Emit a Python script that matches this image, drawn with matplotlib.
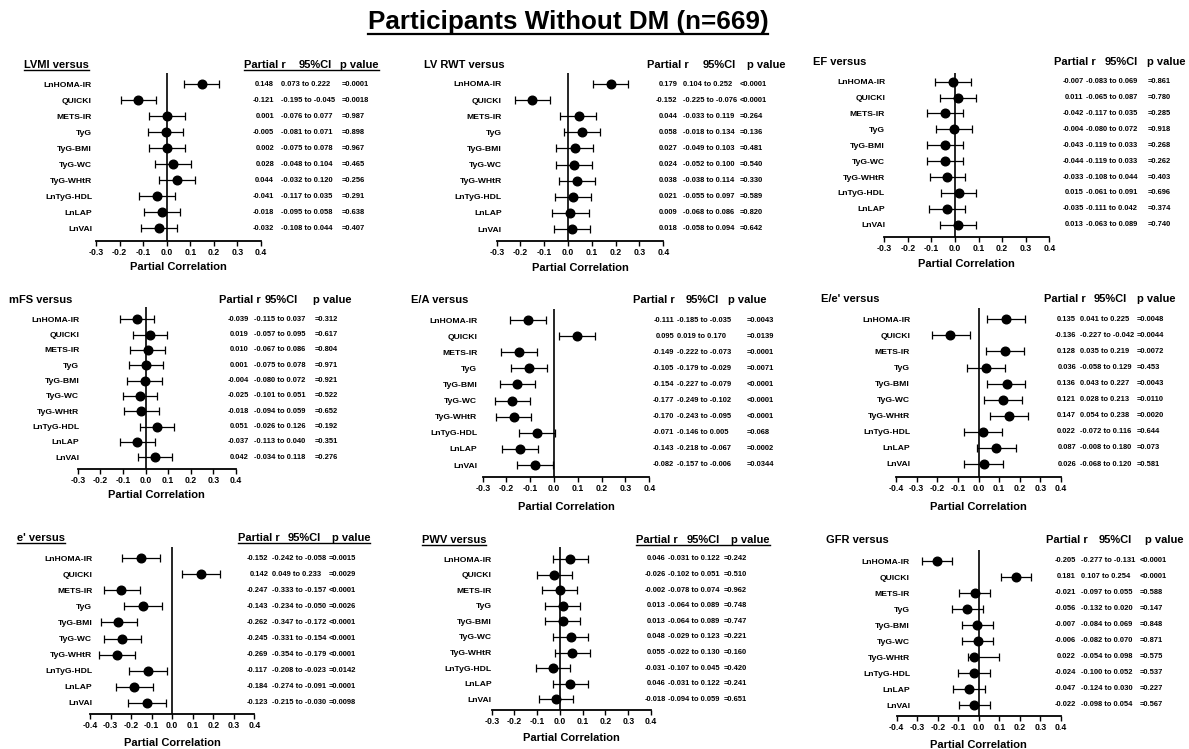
import numpy as np
import matplotlib
matplotlib.use("Agg")
import matplotlib.pyplot as plt
from matplotlib.transforms import blended_transform_factory
from matplotlib.lines import Line2D

plt.rcParams['font.family'] = ['Liberation Sans', 'DejaVu Sans']
plt.rcParams['font.weight'] = 'bold'

W, H = 1189, 749

# ---------------- data ----------------
rows = ["LnHOMA-IR", "QUICKI", "METS-IR", "TyG", "TyG-BMI", "TyG-WC",
        "TyG-WHtR", "LnTyG-HDL", "LnLAP", "LnVAI"]

lvmi_r = [0.148, -0.121, 0.001, -0.005, 0.002, 0.028, 0.044, -0.041, -0.018, -0.032]
lvmi_lo = [0.073, -0.195, -0.076, -0.081, -0.075, -0.048, -0.032, -0.117, -0.095, -0.108]
lvmi_hi = [0.222, -0.045, 0.077, 0.071, 0.078, 0.104, 0.120, 0.035, 0.058, 0.044]
lvmi_p = ["=0.0001", "=0.0018", "=0.987", "=0.898", "=0.967", "=0.465", "=0.256", "=0.291", "=0.638", "=0.407"]

rwt_r = [0.179, -0.152, 0.044, 0.058, 0.027, 0.024, 0.038, 0.021, 0.009, 0.018]
rwt_lo = [0.104, -0.225, -0.033, -0.018, -0.049, -0.052, -0.038, -0.055, -0.068, -0.058]
rwt_hi = [0.252, -0.076, 0.119, 0.134, 0.103, 0.100, 0.114, 0.097, 0.086, 0.094]
rwt_p = ["<0.0001", "<0.0001", "=0.264", "=0.136", "=0.481", "=0.540", "=0.330", "=0.589", "=0.820", "=0.642"]

ef_r = [-0.007, 0.011, -0.042, -0.004, -0.043, -0.044, -0.033, 0.015, -0.035, 0.013]
ef_lo = [-0.083, -0.065, -0.117, -0.080, -0.119, -0.119, -0.108, -0.061, -0.111, -0.063]
ef_hi = [0.069, 0.087, 0.035, 0.072, 0.033, 0.033, 0.044, 0.091, 0.042, 0.089]
ef_p = ["=0.861", "=0.780", "=0.285", "=0.918", "=0.268", "=0.262", "=0.403", "=0.696", "=0.374", "=0.740"]

mfs_r = [-0.039, 0.019, 0.010, 0.001, -0.004, -0.025, -0.018, 0.051, -0.037, 0.042]
mfs_lo = [-0.115, -0.057, -0.067, -0.075, -0.080, -0.101, -0.094, -0.026, -0.113, -0.034]
mfs_hi = [0.037, 0.095, 0.086, 0.078, 0.072, 0.051, 0.059, 0.126, 0.040, 0.118]
mfs_p = ["=0.312", "=0.617", "=0.804", "=0.971", "=0.921", "=0.522", "=0.652", "=0.192", "=0.351", "=0.276"]

ea_r = [-0.111, 0.095, -0.149, -0.105, -0.154, -0.177, -0.170, -0.071, -0.143, -0.082]
ea_lo = [-0.185, 0.019, -0.222, -0.179, -0.227, -0.249, -0.243, -0.146, -0.218, -0.157]
ea_hi = [-0.035, 0.170, -0.073, -0.029, -0.079, -0.102, -0.095, 0.005, -0.067, -0.006]
ea_p = ["=0.0043", "=0.0139", "=0.0001", "=0.0071", "<0.0001", "<0.0001", "<0.0001", "=0.068", "=0.0002", "=0.0344"]

eep_r = [0.135, -0.136, 0.128, 0.036, 0.136, 0.121, 0.147, 0.022, 0.087, 0.026]
eep_lo = [0.041, -0.227, 0.035, -0.058, 0.043, 0.028, 0.054, -0.072, -0.008, -0.068]
eep_hi = [0.225, -0.042, 0.219, 0.129, 0.227, 0.213, 0.238, 0.116, 0.180, 0.120]
eep_p = ["=0.0048", "=0.0044", "=0.0072", "=0.453", "=0.0043", "=0.0110", "=0.0020", "=0.644", "=0.073", "=0.581"]

ep_r = [-0.152, 0.142, -0.247, -0.143, -0.262, -0.245, -0.269, -0.117, -0.184, -0.123]
ep_lo = [-0.242, 0.049, -0.333, -0.234, -0.347, -0.331, -0.354, -0.208, -0.274, -0.215]
ep_hi = [-0.058, 0.233, -0.157, -0.050, -0.172, -0.154, -0.179, -0.023, -0.091, -0.030]
ep_p = ["=0.0015", "=0.0029", "<0.0001", "=0.0026", "<0.0001", "<0.0001", "<0.0001", "=0.0142", "=0.0001", "=0.0098"]

pwv_r = [0.046, -0.026, -0.002, 0.013, 0.013, 0.048, 0.055, -0.031, 0.046, -0.018]
pwv_lo = [-0.031, -0.102, -0.078, -0.064, -0.064, -0.029, -0.022, -0.107, -0.031, -0.094]
pwv_hi = [0.122, 0.051, 0.074, 0.089, 0.089, 0.123, 0.130, 0.045, 0.122, 0.059]
pwv_p = ["=0.242", "=0.510", "=0.962", "=0.748", "=0.747", "=0.221", "=0.160", "=0.420", "=0.241", "=0.651"]

gfr_r = [-0.205, 0.181, -0.021, -0.056, -0.007, -0.006, 0.022, -0.024, -0.047, -0.022]
gfr_marker = [-0.205, 0.181, -0.021, -0.056, -0.007, -0.006, -0.022, -0.024, -0.047, -0.022]
gfr_lo = [-0.277, 0.107, -0.097, -0.132, -0.084, -0.082, -0.054, -0.100, -0.124, -0.098]
gfr_hi = [-0.131, 0.254, 0.055, 0.020, 0.069, 0.070, 0.098, 0.052, 0.030, 0.054]
gfr_p = ["<0.0001", "<0.0001", "=0.588", "=0.147", "=0.848", "=0.871", "=0.575", "=0.537", "=0.227", "=0.567"]

panels = [
    ("LVMI versus", lvmi_r, lvmi_r, lvmi_lo, lvmi_hi, lvmi_p),
    ("LV RWT versus", rwt_r, rwt_r, rwt_lo, rwt_hi, rwt_p),
    ("EF versus", ef_r, ef_r, ef_lo, ef_hi, ef_p),
    ("mFS versus", mfs_r, mfs_r, mfs_lo, mfs_hi, mfs_p),
    ("E/A versus", ea_r, ea_r, ea_lo, ea_hi, ea_p),
    ("E/e' versus", eep_r, eep_r, eep_lo, eep_hi, eep_p),
    ("e' versus", ep_r, ep_r, ep_lo, ep_hi, ep_p),
    ("PWV versus", pwv_r, pwv_r, pwv_lo, pwv_hi, pwv_p),
    ("GFR versus", gfr_r, gfr_marker, gfr_lo, gfr_hi, gfr_p),
]

# ---------------- layout (pixels) ----------------
# xmin, x_left, x_right, y_first, y_last, y_base, y_top, title_x, hdr_y, label_right,
# partial_x, ci_hdr_x, p_hdr_x, r_right, ci_left, p_left, xlabel_y, underline
layout = [
    (-0.3, 96, 261, 84.3, 228.3, 241, 72.7, 24, 65, 92, 244, 299, 340, 274, 281, 342, 267, True),
    (-0.3, 496.7, 663.3, 84, 229, 241, 72.7, 424, 65, 501.7, 646.7, 702.7, 746.7, 677.7, 683, 740, 268, False),
    (-0.3, 884.3, 1049.3, 81.7, 224.7, 236.7, 73, 813, 61.7, 885, 1054, 1105, 1146.7, 1083.7, 1086, 1148, 264.3, False),
    (-0.3, 77.7, 236, 319.3, 457.3, 469, 306.7, 9.3, 300, 79.3, 219.3, 265, 313.3, 248.7, 254, 315, 495, False),
    (-0.3, 482.7, 649.3, 320, 465, 476.7, 309.3, 410.7, 300, 477.3, 632.7, 686, 728, 674, 677, 747, 506.7, False),
    (-0.4, 896, 1061, 319.3, 464, 476.7, 308.3, 820.7, 299.3, 910, 1044, 1093.7, 1136.7, 1076, 1079.5, 1137, 506.7, False),
    (-0.4, 90, 254.3, 558.3, 702.7, 714, 547.3, 17.3, 538.3, 92.3, 237.7, 287.3, 331.7, 268.3, 272.5, 328.8, 742.7, True),
    (-0.3, 491.7, 651, 559, 699.3, 710, 547.3, 421.7, 540, 491.7, 636, 686.7, 731, 665.7, 668.5, 723.5, 738.3, True),
    (-0.4, 896.7, 1061, 561, 705, 716, 550, 825.7, 540, 910, 1046, 1098.7, 1145, 1076, 1081, 1140, 745, False),
]

FS_HDR = 8
FS_XLAB = 8
FS_ROW = 6.1
FS_TICK = 6.2
FS_TAB = 5.45

fig = plt.figure(figsize=(W / 100, H / 100), dpi=100)

def fx(px):
    return px / W

def fy(py):
    return 1 - py / H

underline_texts = []

t = fig.text(fx(568), fy(22), "Participants Without DM (n=669)", ha='center', va='center',
             fontsize=18.7, fontweight='bold')
underline_texts.append((t, 1.6))

for (name, r, rm, lo, hi, p), L in zip(panels, layout):
    (xmin, xl, xr, yf, yl, yb, yt, tx, hy, lr, prx, cix, pvx, rr, cl, pl, xly, ul) = L
    ax = fig.add_axes([fx(xl), fy(yb), (xr - xl) / W, (yb - yt) / H])
    sp = (yl - yf) / 9.0
    ax.set_ylim((yb - yf) / sp, (yt - yf) / sp)
    ax.set_xlim(xmin, 0.4)

    y = np.arange(len(rows))
    rm_a = np.array(rm)
    err = [rm_a - np.array(lo), np.array(hi) - rm_a]
    ax.errorbar(rm_a, y, xerr=err, fmt='o', color='black', ms=6.2,
                capsize=2.6, elinewidth=0.9, capthick=0.9, zorder=3)
    ax.axvline(0, color='black', lw=1.2, zorder=2)

    for s in ['left', 'top', 'right']:
        ax.spines[s].set_visible(False)
    ax.spines['bottom'].set_linewidth(1.3)

    ticks = np.round(np.arange(xmin, 0.4001, 0.1), 1)
    ax.set_xticks(ticks)
    ax.set_xticklabels(["%.1f" % (0.0 if abs(v) < 1e-9 else v) for v in ticks],
                       fontsize=FS_TICK, fontweight='bold')
    ax.tick_params(axis='x', length=3.5, width=1.0, pad=1.5, direction='out')

    ax.set_yticks(y)
    ax.set_yticklabels(rows, fontsize=FS_ROW, fontweight='bold')
    ax.tick_params(axis='y', length=0, pad=(xl - lr) * 0.72)

    ax.set_xlabel("Partial Correlation", fontsize=FS_XLAB, fontweight='bold')
    axh = yb - yt
    ax.xaxis.set_label_coords(0.5, -(xly - yb) / axh)
    ax.xaxis.label.set_va('center')

    # headers
    t1 = fig.text(fx(tx), fy(hy), name, ha='left', va='center', fontsize=FS_HDR, fontweight='bold')
    h1 = fig.text(fx(prx), fy(hy), "Partial r", ha='left', va='center', fontsize=FS_HDR, fontweight='bold')
    fig.text(fx(cix), fy(hy), "95%CI", ha='left', va='center', fontsize=FS_HDR, fontweight='bold')
    h3 = fig.text(fx(pvx), fy(hy), "p value", ha='left', va='center', fontsize=FS_HDR, fontweight='bold')
    if ul:
        underline_texts.append((t1, 1.0))
        underline_texts.append(((h1, h3), 1.0))

    # table
    tr = blended_transform_factory(fig.transFigure, ax.transData)
    for i in range(len(rows)):
        ax.text(fx(rr), i, "%.3f" % r[i], ha='right', va='center', fontsize=FS_TAB,
                fontweight='bold', transform=tr, clip_on=False)
        ax.text(fx(cl), i, "%.3f to %.3f" % (lo[i], hi[i]), ha='left', va='center',
                fontsize=FS_TAB, fontweight='bold', transform=tr, clip_on=False)
        ax.text(fx(pl), i, p[i], ha='left', va='center', fontsize=FS_TAB,
                fontweight='bold', transform=tr, clip_on=False)

fig.canvas.draw()
rend = fig.canvas.get_renderer()
for obj, lw in underline_texts:
    if isinstance(obj, tuple):
        b0 = obj[0].get_window_extent(rend)
        b1 = obj[1].get_window_extent(rend)
        x0, x1 = b0.x0, b1.x1
        yy = min(b0.y0, b1.y0) + 0.5
    else:
        b = obj.get_window_extent(rend)
        x0, x1 = b.x0, b.x1
        yy = b.y0 + 0.5
    fig.add_artist(Line2D([x0 / W, x1 / W], [yy / H, yy / H], transform=fig.transFigure,
                          color='black', lw=lw))

fig.savefig("out.png", dpi=100)
